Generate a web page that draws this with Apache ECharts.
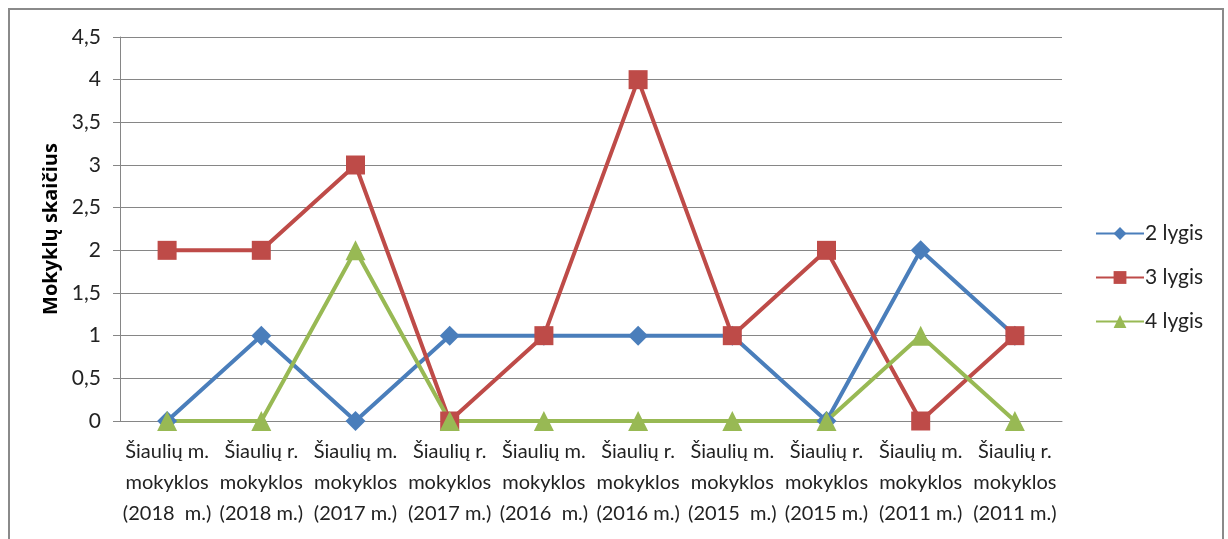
<!DOCTYPE html>
<html>
<head>
<meta charset="utf-8">
<script src="https://cdn.jsdelivr.net/npm/echarts@6/dist/echarts.min.js"></script>
<style>
html,body{margin:0;padding:0;background:#fff;}
#chart{width:1228px;height:539px;}
</style>
</head>
<body>
<div id="chart"></div>
<script>
// kategorijos ir reikšmės
var categories=['Šiaulių m.\nmokyklos\n(2018  m.)','Šiaulių r.\nmokyklos\n(2018 m.)','Šiaulių m.\nmokyklos\n(2017 m.)','Šiaulių r.\nmokyklos\n(2017 m.)','Šiaulių m.\nmokyklos\n(2016  m.)','Šiaulių r.\nmokyklos\n(2016 m.)','Šiaulių m.\nmokyklos\n(2015  m.)','Šiaulių r.\nmokyklos\n(2015 m.)','Šiaulių m.\nmokyklos\n(2011 m.)','Šiaulių r.\nmokyklos\n(2011 m.)'];
var lygis2=[0,1,0,1,1,1,1,0,2,1];
var lygis3=[2,2,3,0,1,4,1,2,0,1];
var lygis4=[0,0,2,0,0,0,0,0,1,0];
var seriesNames=['2 lygis','3 lygis','4 lygis'];

var font='Lato, "Open Sans", sans-serif';
var myChart=echarts.init(document.getElementById('chart'));
var option={
	animation:false,
	textStyle:{fontFamily:font},
	graphic:[{
		type:'rect',
		shape:{x:9,y:9,width:1214,height:560},
		style:{fill:'none',stroke:'#8a8a8a',lineWidth:2}
	}],
	grid:{left:120,right:166,top:37,bottom:118},
	legend:{
		orient:'vertical',
		left:1090,
		top:218,
		itemWidth:48,
		itemHeight:16,
		itemGap:23,
		data:seriesNames,
		textStyle:{fontSize:21,color:'#222',fontFamily:font,padding:[0,0,0,-4]}
	},
	xAxis:{
		type:'category',
		data:categories,
		axisLine:{lineStyle:{color:'#868686',width:1}},
		axisTick:{length:7,lineStyle:{color:'#868686'}},
		axisLabel:{fontSize:20,color:'#222',lineHeight:31,margin:15,interval:0}
	},
	yAxis:{
		type:'value',
		min:0,max:4.5,interval:0.5,
		name:'Mokyklų skaičius',
		nameLocation:'middle',
		nameGap:58,
		nameTextStyle:{fontSize:20,fontWeight:'bold',color:'#000',fontFamily:'"Open Sans", sans-serif'},
		axisLine:{show:true,lineStyle:{color:'#868686'}},
		axisTick:{show:true,length:7,lineStyle:{color:'#868686'}},
		splitLine:{lineStyle:{color:'#868686'}},
		axisLabel:{fontSize:21,color:'#222',margin:19,
			formatter:function(v){return String(v).replace('.',',');}}
	},
	series:[{
		name:seriesNames[0],type:'line',data:lygis2,
		symbol:'diamond',symbolSize:20,
		lineStyle:{width:4,color:'#4a7ebb'},
		itemStyle:{color:'#4a7ebb'}
	},{
		name:seriesNames[1],type:'line',data:lygis3,
		symbol:'rect',symbolSize:19,
		lineStyle:{width:4,color:'#be4b48'},
		itemStyle:{color:'#be4b48'}
	},{
		name:seriesNames[2],type:'line',data:lygis4,
		symbol:'triangle',symbolSize:20,
		lineStyle:{width:4,color:'#98b954'},
		itemStyle:{color:'#98b954'}
	}]
};
myChart.setOption(option);
</script>
</body>
</html>
